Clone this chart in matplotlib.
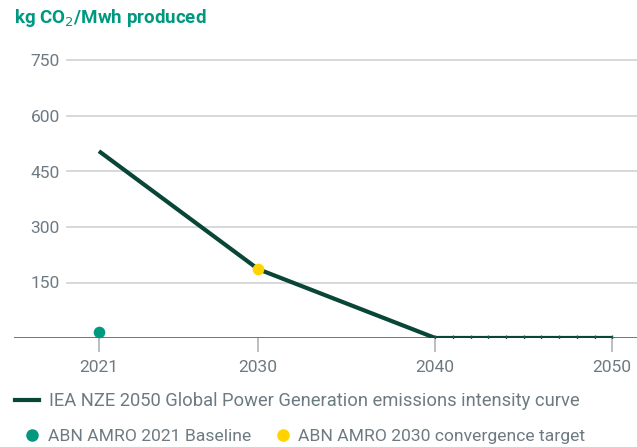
import matplotlib
matplotlib.use("Agg")
import matplotlib.pyplot as plt
from matplotlib.lines import Line2D

years = [2021, 2030, 2040, 2041, 2042, 2043, 2044, 2045, 2046, 2047, 2048, 2049, 2050]
iea_curve = [505, 186, 0, 0, 0, 0, 0, 0, 0, 0, 0, 0, 0]
baseline_year = [2021]
baseline_value = [16]
target_year = [2030]
target_value = [186]
xticks = [2021, 2030, 2040, 2050]
yticks = [150, 300, 450, 600, 750]

plt.rcParams['font.family'] = ['Roboto', 'DejaVu Sans']

teal = "#00997f"
dark = "#0a4638"
yellow = "#ffd200"
gray_txt = "#6e7a82"
grid_c = "#d3d6d9"

fig = plt.figure(figsize=(6.37, 4.47), dpi=100)
W, H = 637, 447
ax = fig.add_axes([14 / W, 109 / H, 623 / W, 288.6 / H])
ax.set_xlim(2016.2, 2051.4)
ax.set_ylim(0, 780)

for s in ax.spines.values():
    s.set_visible(False)

gx = (67 - 14) / 623
for y in yticks:
    ax.axhline(y, xmin=gx, xmax=1, color=grid_c, lw=1.3, zorder=1)
ax.axhline(0, color=teal, lw=1.3, zorder=2)

ax.plot(years, iea_curve, color=dark, lw=3, zorder=3, solid_capstyle='butt')
ax.plot(years[2:], iea_curve[2:], ls='none', marker='|', ms=4, color="#1e5a4c", zorder=4)
ax.scatter(baseline_year, baseline_value, s=70, color=teal, zorder=5, linewidths=0)
ax.scatter(target_year, target_value, s=70, color=yellow, zorder=5, linewidths=0)

ax.set_yticks(yticks)
ax.set_yticklabels([str(v) for v in yticks])
ax.tick_params(axis='y', length=0, labelsize=12.5, labelcolor=gray_txt)
ax.yaxis.set_tick_params(pad=-(60 - 14) / 1.389)

ax.set_xticks(xticks)
ax.set_xticklabels([str(v) for v in xticks])
ax.tick_params(axis='x', length=10, width=1.3, color="#b5babe", pad=6,
               labelsize=12.5, labelcolor=gray_txt, direction='out')

fig.text(14 / W, 1 - 18 / H, "kg CO$_2$/Mwh produced", color=teal, fontsize=13.5,
         fontweight='bold', va='center', ha='left')

h1 = [Line2D([0], [0], color=dark, lw=3)]
fig.legend(h1, ["IEA NZE 2050 Global Power Generation emissions intensity curve"],
           loc='center left', bbox_to_anchor=(8 / W, 1 - 401 / H), frameon=False,
           fontsize=13.2, labelcolor=gray_txt, handlelength=1.3, handletextpad=0.55,
           borderaxespad=0)
h2 = [Line2D([0], [0], ls='none', marker='o', ms=8, color=teal),
      Line2D([0], [0], ls='none', marker='o', ms=8, color=yellow)]
fig.legend(h2, ["ABN AMRO 2021 Baseline", "ABN AMRO 2030 convergence target"],
           loc='center left', bbox_to_anchor=(18 / W, 1 - 436 / H), frameon=False,
           fontsize=12.6, labelcolor=gray_txt, ncol=2, handlelength=0.8,
           handletextpad=0.5, columnspacing=1.4, borderaxespad=0)

fig.savefig("out.png", dpi=100)
